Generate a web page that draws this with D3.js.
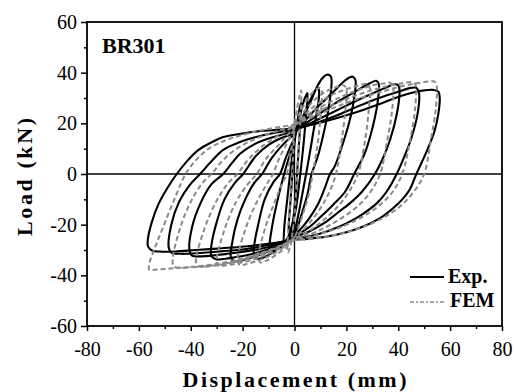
<!DOCTYPE html>
<html>
<head>
<meta charset="utf-8">
<script src="https://cdn.jsdelivr.net/npm/d3@7"></script>
<style>
  html, body { margin: 0; padding: 0; background: #fff; }
  svg { display: block; }
  svg text { font-family: 'Liberation Serif', 'Times New Roman', Times, serif; }
</style>
</head>
<body>
<svg id="chart" width="515" height="392"></svg>
<script>
// ---------------- data ----------------
const xTickValues = [-80, -60, -40, -20, 0, 20, 40, 60, 80];
const yTickValues = [-60, -40, -20, 0, 20, 40, 60];
const xMinorValues = [-70, -50, -30, -10, 10, 30, 50, 70];
const yMinorValues = [-50, -30, -10, 10, 30, 50];
const specimenLabel = "BR301";
const seriesNames = ["Exp.", "FEM"];

// Experimental hysteresis loops [displacement mm, load kN]
const exp0 = [[0,12],[1,20],[2,26],[2.6,28],[2.2,20],[1.3,5],[0.3,-10],[-0.8,-20],[-1.8,-24],[-2.2,-22],[-1.5,-10],[-0.6,3],[0,12]];
const exp1 = [[0,14],[2,23],[4,30],[5,32],[4.6,25],[3.5,12],[2,-2],[0.5,-14],[-1.5,-22],[-3,-26],[-4,-27],[-4,-22],[-2.8,-10],[-1.5,2],[0,14]];
const exp2 = [[0,15],[3,22],[6,29],[8,33],[9,34],[9.5,32],[7,15],[5,3],[3,-8],[1.5,-16],[0,-22],[-3,-26],[-6,-29],[-8.5,-30.5],[-9.5,-29],[-8.5,-20],[-6,-8],[-4,0],[-2,7],[0,13]];
const exp3 = [[0,16],[3,22],[6,28],[8.5,34],[10.5,37.5],[12.4,39.2],[14,38.5],[14.3,36],[13,25],[11,15],[9,7],[6.6,0],[5,-8],[3,-15],[1.5,-20],[0,-23.5],[-3,-27],[-7,-30],[-11,-32.5],[-14,-33.5],[-15.5,-32.5],[-15.5,-28],[-14,-20],[-11.5,-10],[-8,-3],[-5.6,0],[-3.5,6],[-1.5,11],[0,14]];
const exp4 = [[0,16.5],[4,21],[8,25.5],[12,29.5],[16,33.5],[19,36.5],[21,38],[22.5,38.4],[23.5,37],[23,30],[21,20],[18,10],[15.5,3],[13.7,0],[11.5,-6],[9,-12],[6,-17],[3,-21],[0,-24],[-4,-27],[-9,-30],[-15,-32.5],[-20,-34],[-23,-34.5],[-24.5,-33],[-24,-27],[-22,-18],[-19,-10],[-15.5,-3.5],[-12.5,0],[-9,6],[-5,11],[-2,14],[0,15.5]];
const exp5 = [[0,17],[5,20.5],[10,24],[15,27.5],[20,30.5],[25,33.5],[29,35.8],[31.5,36.8],[32.5,35.5],[32,28],[30,18],[27,8],[23,0],[19.5,-7],[15,-12],[10,-17],[5,-21.5],[0,-24.5],[-5,-27.5],[-11,-30],[-18,-32],[-25,-33.2],[-30,-33.7],[-32,-32.5],[-32,-28],[-30,-19],[-27,-10],[-23,-3.5],[-19.8,0],[-15,7],[-10,11.5],[-5,14.2],[0,16]];
const exp6 = [[0,17.3],[6,20],[12,23],[18,26],[24,29],[30,31.8],[35,34],[38.5,35.4],[40,35],[40.5,33],[39.5,24],[37,14],[34,6],[31,0],[26,-7],[22,-11],[17,-15],[12,-19],[6,-22.5],[0,-25],[-6,-27.5],[-13,-29.5],[-22,-31],[-30,-32],[-36,-32.5],[-39.5,-32.2],[-40.5,-30],[-39.5,-21],[-36,-11],[-32,-4],[-27.5,0],[-24,4.5],[-21,8],[-15,12],[-10.6,13.8],[-5,15.5],[0,16.8]];
const exp7 = [[0,17.5],[8,20],[16,23],[24,26.5],[32,29.8],[40,32.5],[45,34],[47,34],[48,32],[47.5,24],[45,14],[42,6],[39.4,0],[35.5,-7],[31.8,-11.5],[26,-16],[20,-19.5],[13,-22.5],[7,-24.3],[0,-25.5],[-8,-27.5],[-18,-29.5],[-28,-30.5],[-38,-31.3],[-44,-31.5],[-47.5,-31],[-48.5,-29],[-47.5,-20],[-44.5,-11],[-40.5,-4.5],[-36.4,0],[-32,5],[-27.5,9.5],[-22,12.2],[-17,14],[-8,16.2],[0,17.3]];
const exp8 = [[0,17.8],[7,19.5],[13.7,21.3],[20,23.2],[26.4,25.3],[32,27.3],[36.8,29.2],[41,30.8],[45.7,32.2],[50,33],[53.5,33.2],[55.5,32.5],[56,30],[55.5,24],[54,17],[51,9],[47,0],[44.5,-6],[42,-9.5],[38,-13.5],[33,-17.4],[27,-20.5],[20,-23],[12,-24.8],[5,-25.6],[0,-26],[-8,-27.3],[-18,-28.5],[-28,-29.3],[-38,-30],[-46,-30.6],[-52,-30.6],[-55,-30.2],[-56.5,-28.5],[-56.5,-25.5],[-55,-19],[-52.5,-12],[-49,-5.5],[-45.4,0],[-41.5,5],[-37,9.5],[-32,12.5],[-27.5,14.6],[-20,16],[-14.5,16.8],[-7,17.4],[0,17.8]];

// FEM hysteresis loops [displacement mm, load kN]
const femA = [[0,20],[1,26],[2,31],[2.6,33],[2.4,24],[1.6,10],[0.8,-4],[0,-16],[-1,-25],[-2,-30],[-2.6,-31],[-2.4,-22],[-1.5,-8],[-0.6,6],[0,20]];
const femB = [[0,20],[3,26],[6,31],[8.5,33.5],[10,34],[10.6,32.5],[10,22],[8.8,11],[7,0],[5.5,-8],[3.5,-15],[1.5,-21],[0,-25],[-4,-29.5],[-8,-32.5],[-11,-34.3],[-13,-35],[-14,-33.5],[-11.5,-22],[-8,-12],[-5,-4.5],[-3,0],[-1.5,8],[0,17]];
const femC = [[0,19],[4,25],[8,29.5],[12,32.5],[16,34.3],[19,35],[20,33.5],[19.5,24],[18,12],[16,0],[13.5,-7],[10,-13.5],[6,-19],[3,-22.5],[0,-25],[-5,-29.5],[-10,-32.5],[-15,-34.5],[-19,-35.7],[-21,-36],[-22,-34.5],[-19,-22],[-15,-12],[-11,-4.5],[-8.3,0],[-6,6],[-3.5,11],[-1.5,15],[0,18]];
const femD = [[0,19],[5,24.5],[10,28.5],[15,31.5],[20,33.5],[25,35],[28,35.5],[29,34],[28.5,24],[27,12],[24.5,0],[21,-7],[17,-12.5],[12,-17.5],[7,-21.5],[3,-24],[0,-25.5],[-5,-29],[-10,-31.5],[-16,-33.8],[-22,-35.3],[-27,-36.1],[-29,-36.3],[-30,-35],[-27,-22],[-22.5,-11],[-18,-4],[-14.6,0],[-11,6],[-7,10.5],[-3.5,14.5],[0,18.5]];
const femE = [[0,19.5],[6,24],[12,27.5],[18,30.5],[24,33],[30,35],[35,35.8],[37,36],[38,34.5],[37.5,24],[35.5,12],[33,0],[29,-7.5],[24,-13],[18,-17.5],[12,-21],[6,-23.8],[0,-25.5],[-6,-29],[-12,-31.5],[-18,-33.5],[-25,-35.2],[-31,-36.2],[-35.5,-36.6],[-37.5,-36.2],[-38,-34],[-34.5,-21],[-30,-10.5],[-25.5,-3.5],[-22,0],[-18,5.5],[-13,10.5],[-8,14],[-4,16.5],[0,19]];
const femF = [[0,19.5],[7,23.5],[14,27],[21,30],[28,32.5],[35,34.5],[41,35.7],[45,36.3],[46.5,35.5],[46.5,26],[44.5,13],[41.5,0],[37.5,-7.5],[32,-13],[26,-17],[19,-20.5],[12,-23],[6,-24.8],[0,-26],[-7,-29],[-14,-31.5],[-22,-33.8],[-30,-35.5],[-38,-36.5],[-44,-37],[-46.5,-36.5],[-47,-34],[-44,-21],[-40,-11],[-35.5,-3.5],[-32,0],[-28,5],[-23,9.5],[-17,13],[-11,15.5],[-5,17.5],[0,19]];
const femG = [[0,19.5],[8,23],[16,26.5],[24,29.5],[32,32],[40,34.3],[47,35.8],[52,36.5],[54,36.5],[54.8,35],[54.5,26],[52.5,13],[50,0],[46,-7],[41,-12.5],[35,-16.8],[28,-20.3],[20,-23],[12,-24.8],[5,-25.8],[0,-26.2],[-8,-29.5],[-16,-32.5],[-25,-35],[-35,-36.5],[-44,-37],[-50,-37.5],[-54,-37.8],[-56,-37.8],[-56,-35.5],[-53,-27],[-49.5,-18],[-45.5,-8],[-42,0],[-38,5.5],[-33,10],[-26,13.5],[-18,16],[-10,17.8],[0,19.5]];

const expLoops = [exp0, exp1, exp2, exp3, exp4, exp5, exp6, exp7, exp8];
const femLoops = [femA, femB, femC, femD, femE, femF, femG];

// ---------------- drawing ----------------
(function () {
const svg = d3.select("#chart");
const FONT = "'Liberation Serif', 'Times New Roman', Times, serif";
const pLeft = 87, pRight = 502, pTop = 22, pBottom = 326;

const x = d3.scaleLinear().domain([-80, 80]).range([pLeft, pRight]);
const y = d3.scaleLinear().domain([-60, 60]).range([pBottom, pTop]);

const line = d3.line()
  .x(d => x(d[0])).y(d => y(d[1]))
  .curve(d3.curveCatmullRom.alpha(0.5));

const plot = svg.append("g");
plot.append("defs").append("clipPath").attr("id", "clip")
  .append("rect").attr("x", pLeft).attr("y", pTop)
  .attr("width", pRight - pLeft).attr("height", pBottom - pTop);

// zero lines
plot.append("line").attr("x1", x(0)).attr("x2", x(0)).attr("y1", pTop).attr("y2", pBottom)
  .attr("stroke", "#000").attr("stroke-width", 1.3);
plot.append("line").attr("x1", pLeft).attr("x2", pRight).attr("y1", y(0)).attr("y2", y(0))
  .attr("stroke", "#000").attr("stroke-width", 1.3);

const curves = plot.append("g").attr("clip-path", "url(#clip)");
curves.selectAll("path.exp").data(expLoops).enter().append("path")
  .attr("class", "exp").attr("d", line)
  .attr("fill", "none").attr("stroke", "#000").attr("stroke-width", 2.1)
  .attr("stroke-linejoin", "round");
curves.selectAll("path.fem").data(femLoops).enter().append("path")
  .attr("class", "fem").attr("d", line)
  .attr("fill", "none").attr("stroke", "#8a8a8a").attr("stroke-width", 2)
  .attr("stroke-dasharray", "5,3");

// axes
const xAxis = d3.axisBottom(x).tickValues(xTickValues).tickSize(5).tickPadding(11)
  .tickFormat(d => String(d));
const gx = svg.append("g").attr("transform", `translate(0,${pBottom})`).call(xAxis);
const xMinor = d3.axisBottom(x).tickValues(xMinorValues).tickSize(3).tickFormat("");
const gxm = svg.append("g").attr("transform", `translate(0,${pBottom})`).call(xMinor);

const yAxis = d3.axisLeft(y).tickValues(yTickValues).tickSize(6).tickPadding(4)
  .tickFormat(d => String(d));
const gy = svg.append("g").attr("transform", `translate(${pLeft},0)`).call(yAxis);
const yMinor = d3.axisLeft(y).tickValues(yMinorValues).tickSize(3).tickFormat("");
const gym = svg.append("g").attr("transform", `translate(${pLeft},0)`).call(yMinor);

[gx, gxm, gy, gym].forEach(g => {
  g.attr("font-family", FONT).attr("font-size", 20);
  g.select(".domain").remove();
  g.selectAll(".tick line").attr("stroke", "#000").attr("stroke-width", 1.5);
  g.selectAll(".tick text").attr("font-family", FONT).attr("font-size", 20).attr("fill", "#000");
});

// frame
svg.append("rect").attr("x", pLeft).attr("y", pTop)
  .attr("width", pRight - pLeft).attr("height", pBottom - pTop)
  .attr("fill", "none").attr("stroke", "#000").attr("stroke-width", 1.8);

// axis titles
svg.append("text").attr("x", (pLeft + pRight) / 2).attr("y", 387)
  .attr("text-anchor", "middle").attr("font-family", FONT).attr("font-weight", "bold")
  .attr("font-size", 22).attr("textLength", 224).attr("lengthAdjust", "spacing")
  .text("Displacement (mm)");
svg.append("text").attr("transform", "translate(32,177) rotate(-90)")
  .attr("text-anchor", "middle").attr("font-family", FONT).attr("font-weight", "bold")
  .attr("font-size", 22).attr("textLength", 118).attr("lengthAdjust", "spacing")
  .text("Load (kN)");

// specimen label
svg.append("text").attr("x", 102).attr("y", 53)
  .attr("font-family", FONT).attr("font-weight", "bold").attr("font-size", 22)
  .text(specimenLabel);

// legend
const legend = svg.append("g");
legend.append("line").attr("x1", 410).attr("x2", 444).attr("y1", 277).attr("y2", 277)
  .attr("stroke", "#000").attr("stroke-width", 2.2);
legend.append("text").attr("x", 448).attr("y", 283)
  .attr("font-family", FONT).attr("font-weight", "bold").attr("font-size", 20)
  .text(seriesNames[0]);
legend.append("line").attr("x1", 410).attr("x2", 444).attr("y1", 302).attr("y2", 302)
  .attr("stroke", "#8a8a8a").attr("stroke-width", 1.6).attr("stroke-dasharray", "4,2,2,2");
legend.append("text").attr("x", 450).attr("y", 307)
  .attr("font-family", FONT).attr("font-weight", "bold").attr("font-size", 20)
  .text(seriesNames[1]);
})();
</script>
</body>
</html>
